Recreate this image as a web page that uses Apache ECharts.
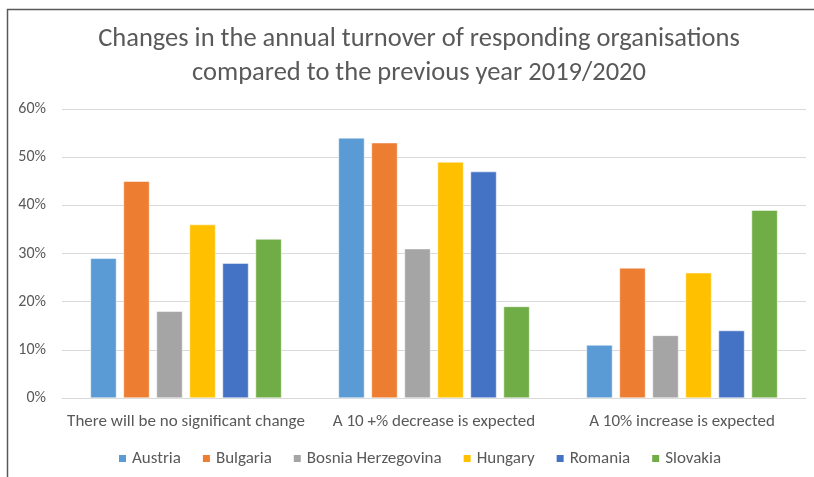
<!DOCTYPE html>
<html>
<head>
<meta charset="utf-8">
<script src="https://cdn.jsdelivr.net/npm/echarts@6/dist/echarts.min.js"></script>
<style>
  html, body { margin: 0; padding: 0; background: #fff; }
  #chart { width: 814px; height: 477px; }
</style>
</head>
<body>
<div id="chart"></div>
<script>
// Turnover expectations by country (share of responding organisations, %)
const categories = [
  'There will be no significant change',
  'A 10 +% decrease is expected',
  'A 10% increase is expected'
];
const countries = ['Austria', 'Bulgaria', 'Bosnia Herzegovina', 'Hungary', 'Romania', 'Slovakia'];
const austria  = [29, 54, 11];
const bulgaria = [45, 53, 27];
const bosnia   = [18, 31, 13];
const hungary  = [36, 49, 26];
const romania  = [28, 47, 14];
const slovakia = [33, 19, 39];
const yTicks = [0, 10, 20, 30, 40, 50, 60];

const colors = ['#5B9BD5', '#ED7D31', '#A5A5A5', '#FFC000', '#4472C4', '#70AD47'];
const seriesValues = [austria, bulgaria, bosnia, hungary, romania, slovakia];
const font = 'Calibri, Carlito, "Liberation Sans Narrow", "Open Sans", sans-serif';

const chart = echarts.init(document.getElementById('chart'));
chart.setOption({
  animation: false,
  color: colors,
  title: {
    text: 'Changes in the annual turnover of responding organisations\ncompared to the previous year 2019/2020',
    left: 414,
    textAlign: 'center',
    top: 17,
    textStyle: { fontFamily: font, fontSize: 26.5, fontWeight: 'normal', color: '#595959', lineHeight: 34 }
  },
  legend: {
    bottom: 5,
    left: 112,
    itemWidth: 9,
    itemHeight: 9,
    itemGap: 20,
    icon: 'rect',
    textStyle: { fontFamily: font, fontSize: 17, color: '#595959' },
    data: countries
  },
  grid: { left: 62, right: 8, top: 109, bottom: 79, containLabel: false },
  xAxis: {
    type: 'category',
    data: categories,
    axisLine: { lineStyle: { color: '#D9D9D9', width: 1 } },
    axisTick: { show: false },
    axisLabel: { fontFamily: font, fontSize: 17, color: '#595959', margin: 15, interval: 0 }
  },
  yAxis: {
    type: 'value',
    min: yTicks[0],
    max: yTicks[yTicks.length - 1],
    interval: 10,
    axisLine: { show: false },
    axisTick: { show: false },
    splitLine: { lineStyle: { color: '#D9D9D9', width: 1 } },
    axisLabel: { fontFamily: font, fontSize: 16, color: '#595959', margin: 16, formatter: '{value}%' }
  },
  series: countries.map((name, i) => ({
    name,
    type: 'bar',
    data: seriesValues[i],
    barWidth: 26,
    barGap: '27%',
    itemStyle: { borderColor: '#ffffff', borderWidth: 0.5 }
  })),
  graphic: [
    { type: 'line', shape: { x1: 7, y1: 9.5, x2: 814, y2: 9.5 }, style: { stroke: '#595959', lineWidth: 1.5 } },
    { type: 'line', shape: { x1: 7.5, y1: 9, x2: 7.5, y2: 477 }, style: { stroke: '#595959', lineWidth: 1.5 } }
  ]
});
</script>
</body>
</html>
